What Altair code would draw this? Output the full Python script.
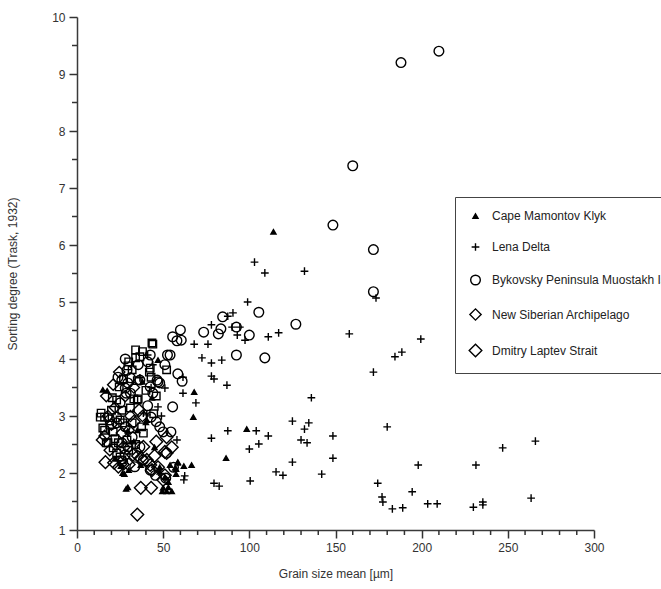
import altair as alt
import pandas as pd

# ---------------- data ----------------
groups = ["Cape Mamontov Klyk", "Lena Delta", "Bykovsky Peninsula Muostakh Island",
          "New Siberian Archipelago", "Dmitry Laptev Strait"]

cape_x = [114, 68, 67.5, 98.5, 86.5, 58.5, 62, 66.5, 57.5, 57.5, 55, 40.5, 35, 29.5, 57, 48, 51, 49.5,
          52, 53, 29.5, 48, 27.5, 28.5, 15, 17.5, 47, 43.5, 40, 37, 26.5, 25.5, 54, 50, 58.5, 33, 45,
          38, 22, 53, 30]
cape_y = [6.23, 3.42, 2.98, 2.77, 2.26, 2.19, 2.12, 2.14, 2.07, 1.98, 1.68, 2.93, 2.75, 2.74, 2.09, 2.10,
          1.93, 1.68, 1.68, 1.84, 1.75, 2.02, 1.98, 1.72, 3.46, 3.44, 3.98, 3.32, 2.89, 2.14, 2.00, 2.12,
          2.14, 1.74, 2.18, 2.55, 2.45, 3.60, 2.25, 1.75, 2.05]

lena_x = [103, 109, 132, 99, 90.5, 87.5, 78, 90, 94.5, 93, 97.5, 111, 117, 68, 76, 72.5, 78, 84, 78,
          79.5, 87, 61.5, 61.5, 69, 136, 158, 172, 173.5, 184.5, 188.5, 199.5, 58, 78, 87.5, 104, 111,
          100, 105.5, 125, 134.5, 132, 130, 133.5, 148.5, 148.5, 125, 115.5, 119.5, 142, 100.5, 79.5,
          82.5, 62.5, 62, 180, 198, 174.5, 177, 177.5, 183, 189, 194.5, 203.5, 209, 231.5, 230, 235.5,
          235.5, 247, 266, 263.5, 41, 44, 36.5, 51, 47, 43, 40.5, 49, 38.5]
lena_y = [5.70, 5.51, 5.54, 5.00, 4.81, 4.75, 4.60, 4.56, 4.56, 4.42, 4.33, 4.39, 4.46, 4.26, 4.26, 4.02,
          3.93, 3.98, 3.70, 3.65, 3.54, 3.68, 3.40, 3.23, 3.32, 4.44, 3.77, 5.07, 4.04, 4.12, 4.35, 2.58,
          2.61, 2.74, 2.74, 2.65, 2.42, 2.51, 2.91, 2.88, 2.77, 2.58, 2.53, 2.65, 2.26, 2.19, 2.02, 1.96,
          1.98, 1.86, 1.82, 1.77, 1.95, 1.88, 2.81, 2.14, 1.82, 1.58, 1.49, 1.37, 1.39, 1.67, 1.46, 1.46,
          2.14, 1.40, 1.49, 1.44, 2.44, 2.56, 1.56, 4.07, 3.90, 3.67, 3.49, 3.16, 3.50, 3.02, 3.00, 3.05]

byk_x = [210, 188, 160, 148.5, 172, 172, 105.5, 84.5, 92.5, 83.5, 82, 73.5, 100, 60, 60.5, 58, 55.5, 127,
         92.5, 109, 58.5, 61, 54, 55.5, 54.5, 42.5, 51, 46.5, 48, 29, 29.5, 28, 31, 35.5, 42.5, 44, 28,
         36.5, 41, 52.5, 47, 26, 23.8, 28.5, 31, 25, 41, 23, 19, 23, 28, 32, 26, 29.5, 36.5, 38.5, 52,
         43, 46, 48, 50, 28, 26.5, 42.5, 45.5, 51.5, 33.5, 56]
byk_y = [9.40, 9.20, 7.39, 6.35, 5.92, 5.18, 4.82, 4.74, 4.56, 4.53, 4.44, 4.47, 4.42, 4.51, 4.33, 4.32,
         4.39, 4.61, 4.07, 4.02, 3.74, 3.61, 4.07, 3.16, 2.72, 4.07, 3.90, 3.63, 3.58, 3.80, 3.58, 3.49,
         3.67, 3.90, 3.51, 3.40, 4.00, 3.63, 3.95, 4.07, 3.60, 3.63, 3.68, 3.40, 3.40, 3.23, 3.18, 2.98,
         2.93, 2.88, 2.81, 2.63, 2.53, 2.46, 2.46, 2.23, 2.35, 2.98, 2.90, 2.81, 2.72, 2.32, 2.20, 2.05,
         1.96, 1.91, 2.11, 2.10]

nsa_x = [24.5, 14.5, 18, 20, 22, 26, 28, 31, 17, 19, 24, 27, 33, 30, 35, 21, 38, 16]
nsa_y = [3.77, 2.58, 3.00, 2.85, 3.15, 2.70, 3.35, 3.00, 3.35, 2.40, 2.10, 2.15, 3.50, 2.75, 2.30, 3.55,
         3.00, 2.65]

dls_x = [35, 37, 43, 16.5, 21.5, 37, 40.5, 38.5, 42.5, 43.5, 51, 52, 51, 32.5, 52, 50, 47, 55, 45, 30,
         27, 33, 36, 46]
dls_y = [1.27, 1.74, 1.74, 2.19, 2.18, 2.26, 2.23, 2.46, 2.14, 2.05, 1.96, 2.63, 2.37, 2.32, 2.35, 1.88,
         2.10, 2.45, 2.30, 2.15, 2.45, 2.90, 3.10, 2.55]

# Muostakh Island squares (not shown separately in the legend)
sq_x = [44, 34, 36.5, 34, 29.5, 32, 42, 43, 24.5, 33, 35.5, 20.5, 23, 31, 13.5, 16, 44.5, 16, 21, 25,
        26.5, 32, 18, 24, 21, 25, 29, 37.5, 38.5, 43.5, 42.5, 52, 35, 15, 19, 17, 26, 38, 30, 27, 20,
        26, 14, 22, 30, 34, 40, 46, 35, 23]
sq_y = [4.26, 4.16, 4.04, 4.02, 3.88, 3.81, 3.77, 3.68, 3.51, 3.30, 3.30, 3.32, 3.28, 3.14, 2.98, 2.98,
        3.04, 2.75, 2.72, 2.93, 2.88, 2.88, 2.53, 2.53, 2.44, 2.28, 2.58, 2.81, 2.70, 4.28, 3.84, 3.81,
        3.28, 2.79, 2.84, 2.53, 2.23, 4.13, 3.95, 3.65, 3.10, 3.10, 3.05, 2.60, 2.40, 2.50, 3.45, 3.35,
        3.62, 2.35]

x_major = [0, 50, 100, 150, 200, 250, 300]
x_minor = [v for v in range(0, 301, 10) if v % 50 != 0]
y_major = list(range(1, 11))
y_minor = [v + 0.5 for v in range(1, 10)]

# ---------------- tables ----------------
rows = []
for g, xs, ys in zip(groups, [cape_x, lena_x, byk_x, nsa_x, dls_x],
                     [cape_y, lena_y, byk_y, nsa_y, dls_y]):
    for a, b in zip(xs, ys):
        rows.append({"x": a, "y": b, "group": g})
df = pd.DataFrame(rows)
sq = pd.DataFrame({"x": sq_x, "y": sq_y})

FONT = "Liberation Sans"
W, H = 517, 513
AX = "#333333"

xscale = alt.Scale(domain=[0, 300], nice=False, zero=False)
yscale = alt.Scale(domain=[1, 10], nice=False, zero=False)

plus_path = "M-1,0L1,0M0,-1L0,1"
leg = alt.Legend(title=None)

x_axis = alt.Axis(values=x_major, orient="bottom", title="Grain size mean [µm]", grid=False,
                  ticks=True, tickSize=8, tickWidth=1.5, tickColor=AX,
                  domainColor="#3a3a3a", domainWidth=1.5,
                  labelPadding=4, labelFlush=False, titlePadding=15)
y_axis = alt.Axis(values=y_major, orient="left", title="Sorting degree (Trask, 1932)", grid=False,
                  ticks=True, tickSize=8, tickWidth=1.5, tickColor=AX,
                  domainColor="#3a3a3a", domainWidth=1.5,
                  labelPadding=4, labelFlush=False, titlePadding=32, format="d")

squares = alt.Chart(sq).mark_point(shape="square", filled=False, size=56, strokeWidth=1.4,
                                   color="black", opacity=1).encode(
    x=alt.X("x:Q", scale=xscale, axis=x_axis),
    y=alt.Y("y:Q", scale=yscale, axis=y_axis),
)

points = alt.Chart(df).mark_point(filled=False, strokeWidth=1.4, color="black", opacity=1).encode(
    x=alt.X("x:Q", scale=xscale, axis=x_axis),
    y=alt.Y("y:Q", scale=yscale, axis=y_axis),
    shape=alt.Shape("group:N", scale=alt.Scale(domain=groups,
                    range=["triangle-up", plus_path, "circle", "diamond", "diamond"]), legend=leg),
    size=alt.Size("group:N", scale=alt.Scale(domain=groups, range=[26, 160, 32, 28, 48]), legend=leg),
    fill=alt.Fill("group:N", scale=alt.Scale(domain=groups,
                  range=["black", "transparent", "transparent", "transparent", "transparent"]),
                  legend=leg),
    stroke=alt.Stroke("group:N", scale=alt.Scale(domain=groups,
                      range=["black", "black", "black", "black", "black"]), legend=leg),
)

# minor tick marks (5 px, pointing outward)
xminor = alt.Chart(pd.DataFrame({"v": x_minor})).mark_rule(color=AX, strokeWidth=1.5).encode(
    x=alt.X("v:Q", scale=xscale), y=alt.value(H), y2=alt.value(H + 5))
yminor = alt.Chart(pd.DataFrame({"v": y_minor})).mark_rule(color=AX, strokeWidth=1.5).encode(
    y=alt.Y("v:Q", scale=yscale), x=alt.value(0), x2=alt.value(-5))

chart = alt.layer(squares, points, xminor, yminor).properties(
    width=W, height=H,
    autosize=alt.AutoSizeParams(type="none"),
    padding={"left": 77, "top": 17, "right": 67, "bottom": 59},
).configure_view(strokeWidth=0).configure_axis(
    labelColor="#333", titleColor="#333",
    labelFont=FONT, titleFont=FONT, labelFontSize=12, titleFontSize=12, titleFontWeight="normal",
).configure_legend(
    orient="none", legendX=378, legendY=180, strokeColor="#444", fillColor="white",
    padding=13, labelFont=FONT, labelFontSize=12, labelColor="#222", rowPadding=18,
    labelOffset=9, labelLimit=220, symbolStrokeColor="black", symbolStrokeWidth=1.4,
    cornerRadius=0,
)

chart.save("out.html", embed_options={"renderer": "svg", "actions": False})
